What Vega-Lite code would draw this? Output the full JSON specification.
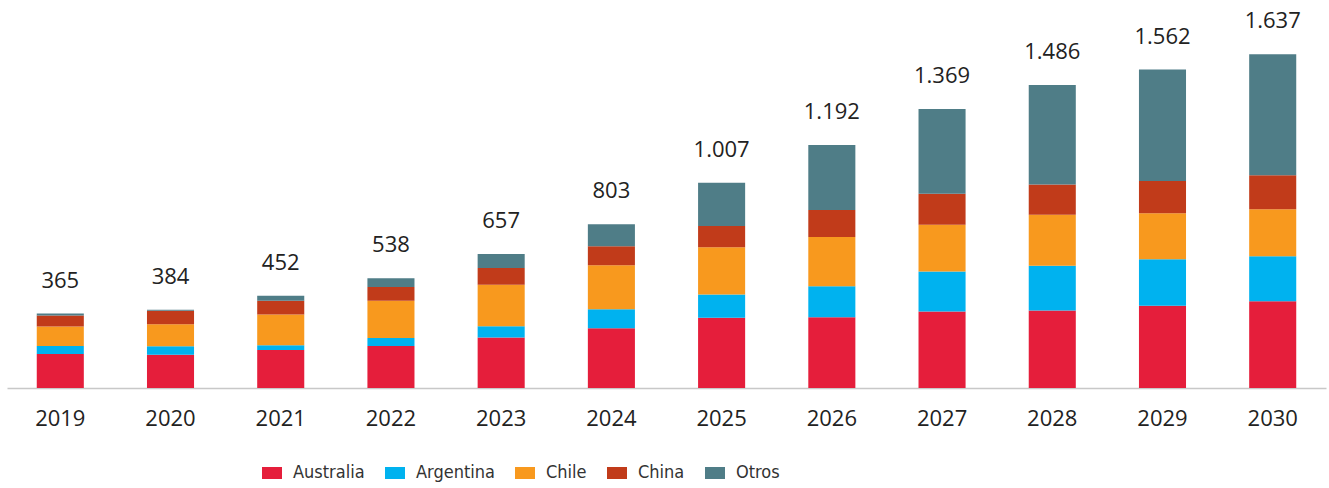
{
  "$schema": "https://vega.github.io/schema/vega-lite/v6.json",
  "width": 1319,
  "height": 367,
  "autosize": {"type": "none"},
  "padding": {"left": 7, "right": 3, "top": 21, "bottom": 100},
  "background": "white",
  "config": {"view": {"stroke": null}, "font": "Open Sans"},
  "datasets": {
    "segments": [
      {"anio": "2019", "pais": "Australia", "valor": 167}, {"anio": "2019", "pais": "Argentina", "valor": 39}, {"anio": "2019", "pais": "Chile", "valor": 96}, {"anio": "2019", "pais": "China", "valor": 53}, {"anio": "2019", "pais": "Otros", "valor": 10},
      {"anio": "2020", "pais": "Australia", "valor": 163}, {"anio": "2020", "pais": "Argentina", "valor": 42}, {"anio": "2020", "pais": "Chile", "valor": 108}, {"anio": "2020", "pais": "China", "valor": 66}, {"anio": "2020", "pais": "Otros", "valor": 5},
      {"anio": "2021", "pais": "Australia", "valor": 186}, {"anio": "2021", "pais": "Argentina", "valor": 24}, {"anio": "2021", "pais": "Chile", "valor": 150}, {"anio": "2021", "pais": "China", "valor": 68}, {"anio": "2021", "pais": "Otros", "valor": 24},
      {"anio": "2022", "pais": "Australia", "valor": 206}, {"anio": "2022", "pais": "Argentina", "valor": 39}, {"anio": "2022", "pais": "Chile", "valor": 183}, {"anio": "2022", "pais": "China", "valor": 67}, {"anio": "2022", "pais": "Otros", "valor": 43},
      {"anio": "2023", "pais": "Australia", "valor": 248}, {"anio": "2023", "pais": "Argentina", "valor": 55}, {"anio": "2023", "pais": "Chile", "valor": 203}, {"anio": "2023", "pais": "China", "valor": 83}, {"anio": "2023", "pais": "Otros", "valor": 68},
      {"anio": "2024", "pais": "Australia", "valor": 293}, {"anio": "2024", "pais": "Argentina", "valor": 93}, {"anio": "2024", "pais": "Chile", "valor": 216}, {"anio": "2024", "pais": "China", "valor": 93}, {"anio": "2024", "pais": "Otros", "valor": 108},
      {"anio": "2025", "pais": "Australia", "valor": 344}, {"anio": "2025", "pais": "Argentina", "valor": 114}, {"anio": "2025", "pais": "Chile", "valor": 232}, {"anio": "2025", "pais": "China", "valor": 104}, {"anio": "2025", "pais": "Otros", "valor": 213},
      {"anio": "2026", "pais": "Australia", "valor": 347}, {"anio": "2026", "pais": "Argentina", "valor": 152}, {"anio": "2026", "pais": "Chile", "valor": 241}, {"anio": "2026", "pais": "China", "valor": 133}, {"anio": "2026", "pais": "Otros", "valor": 319},
      {"anio": "2027", "pais": "Australia", "valor": 375}, {"anio": "2027", "pais": "Argentina", "valor": 196}, {"anio": "2027", "pais": "Chile", "valor": 230}, {"anio": "2027", "pais": "China", "valor": 152}, {"anio": "2027", "pais": "Otros", "valor": 416},
      {"anio": "2028", "pais": "Australia", "valor": 380}, {"anio": "2028", "pais": "Argentina", "valor": 220}, {"anio": "2028", "pais": "Chile", "valor": 250}, {"anio": "2028", "pais": "China", "valor": 148}, {"anio": "2028", "pais": "Otros", "valor": 488},
      {"anio": "2029", "pais": "Australia", "valor": 403}, {"anio": "2029", "pais": "Argentina", "valor": 229}, {"anio": "2029", "pais": "Chile", "valor": 225}, {"anio": "2029", "pais": "China", "valor": 158}, {"anio": "2029", "pais": "Otros", "valor": 547},
      {"anio": "2030", "pais": "Australia", "valor": 425}, {"anio": "2030", "pais": "Argentina", "valor": 221}, {"anio": "2030", "pais": "Chile", "valor": 231}, {"anio": "2030", "pais": "China", "valor": 167}, {"anio": "2030", "pais": "Otros", "valor": 593}
    ],
    "totals": [
      {"anio": "2019", "total": 365, "etiqueta": "365"},
      {"anio": "2020", "total": 384, "etiqueta": "384"},
      {"anio": "2021", "total": 452, "etiqueta": "452"},
      {"anio": "2022", "total": 538, "etiqueta": "538"},
      {"anio": "2023", "total": 657, "etiqueta": "657"},
      {"anio": "2024", "total": 803, "etiqueta": "803"},
      {"anio": "2025", "total": 1007, "etiqueta": "1.007"},
      {"anio": "2026", "total": 1192, "etiqueta": "1.192"},
      {"anio": "2027", "total": 1369, "etiqueta": "1.369"},
      {"anio": "2028", "total": 1486, "etiqueta": "1.486"},
      {"anio": "2029", "total": 1562, "etiqueta": "1.562"},
      {"anio": "2030", "total": 1637, "etiqueta": "1.637"}
    ]
  },
  "layer": [
    {
      "data": {"name": "segments"},
      "transform": [
        {"calculate": "indexof(['Australia','Argentina','Chile','China','Otros'], datum.pais)", "as": "orden"}
      ],
      "mark": {"type": "bar"},
      "encoding": {
        "x": {
          "field": "anio", "type": "ordinal",
          "scale": {"paddingInner": 0.573, "paddingOuter": 0.27},
          "axis": {"title": null, "labelAngle": 0, "ticks": false, "tickSize": 0, "labelPadding": 20, "labelFontSize": 22, "labelColor": "#222222", "labelFont": "Open Sans", "domainColor": "#C8C8C8", "domainWidth": 1.5, "grid": false}
        },
        "y": {"field": "valor", "type": "quantitative", "stack": "zero", "scale": {"domain": [0, 1800]}, "axis": null},
        "order": {"field": "orden", "type": "quantitative", "sort": "ascending"},
        "color": {
          "field": "pais", "type": "nominal",
          "sort": ["Australia", "Argentina", "Chile", "China", "Otros"],
          "scale": {"domain": ["Australia", "Argentina", "Chile", "China", "Otros"], "range": ["#E51E3B", "#00B2EF", "#F8991E", "#C13B1A", "#4F7D87"]},
          "legend": {"orient": "none", "legendX": 255, "legendY": 442, "direction": "horizontal", "title": null, "symbolType": "M-1,-0.6H1V0.6H-1Z", "symbolSize": 400, "symbolStrokeWidth": 0, "symbolOpacity": 1, "labelFont": "Liberation Sans Narrow, DejaVu Sans Condensed, Lato, sans-serif", "labelFontSize": 18, "labelColor": "#333333", "labelOffset": 11, "columnPadding": 20}
        }
      }
    },
    {
      "data": {"name": "totals"},
      "mark": {"type": "text", "dy": -33, "baseline": "middle", "fontSize": 22, "color": "#222222", "font": "Open Sans"},
      "encoding": {
        "x": {"field": "anio", "type": "ordinal"},
        "y": {"field": "total", "type": "quantitative"},
        "text": {"field": "etiqueta"}
      }
    }
  ]
}
